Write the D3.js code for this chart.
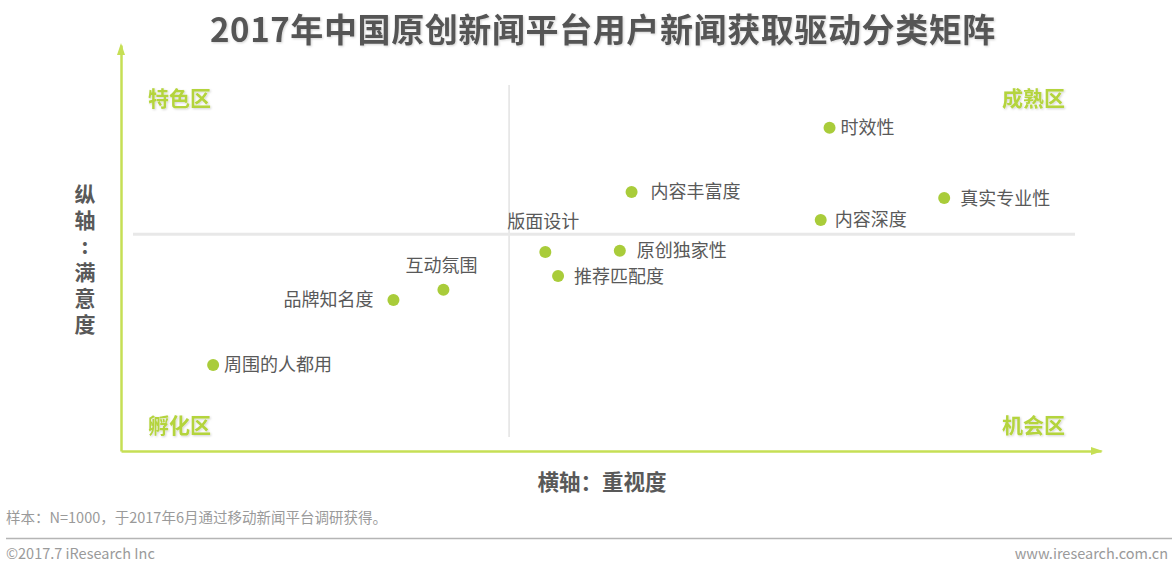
<!DOCTYPE html>
<html>
<head>
<meta charset="utf-8">
<script src="https://cdn.jsdelivr.net/npm/d3@7"></script>
<style>
  body { margin: 0; background: #fff; }
  svg { font-family: "Noto Sans CJK SC", "Noto Sans", sans-serif; }
</style>
</head>
<body>
<div id="chart"></div>
<script>
// factors, importance (x) and satisfaction (y)
const factors = ["时效性", "内容丰富度", "真实专业性", "内容深度", "版面设计", "原创独家性", "推荐匹配度", "互动氛围", "品牌知名度", "周围的人都用"];
const importance = [7.23, 5.21, 8.40, 7.14, 4.33, 5.09, 4.46, 3.29, 2.78, 0.94];
const satisfaction = [7.96, 6.38, 6.23, 5.69, 4.90, 4.93, 4.31, 3.97, 3.72, 2.12];
const xMid = 3.96;
const yMid = 5.34;
const quadrants = ["特色区", "成熟区", "孵化区", "机会区"];

// label placement relative to each dot
const labelSide = ["right", "right", "right", "right", "top", "right", "right", "top", "left", "right"];
const labelGap = [11, 19, 16, 14, 24, 17, 16, 18, 20, 11];

const W = 1172, H = 570;
const GREEN_AXIS = "#c6df55";
const GREEN_DOT = "#a9cc3a";
const GREEN_TEXT = "#b4d43c";
const DARK = "#595959";

const svg = d3.select("#chart").append("svg")
  .attr("width", W).attr("height", H);

const defs = svg.append("defs");
defs.append("filter").attr("id", "soft")
  .append("feDropShadow")
    .attr("dx", 1).attr("dy", 1).attr("stdDeviation", 1.2)
    .attr("flood-color", "#000").attr("flood-opacity", 0.18);

const x = d3.scaleLinear().domain([0, 10]).range([121, 1101]);
const y = d3.scaleLinear().domain([0, 10]).range([451, 45]);

// title
svg.append("text")
  .attr("x", 603).attr("y", 42)
  .attr("text-anchor", "middle")
  .attr("font-size", 33).attr("font-weight", "bold")
  .attr("letter-spacing", 0.6)
  .attr("fill", "#555")
  .attr("filter", "url(#soft)")
  .text("2017年中国原创新闻平台用户新闻获取驱动分类矩阵");

// quadrant dividers
svg.append("line")
  .attr("x1", x(xMid)).attr("x2", x(xMid))
  .attr("y1", 85).attr("y2", 437)
  .attr("stroke", "#e3e3e3").attr("stroke-width", 1.5);
svg.append("line")
  .attr("x1", 133).attr("x2", 1075)
  .attr("y1", y(yMid)).attr("y2", y(yMid))
  .attr("stroke", "#e8e8e8").attr("stroke-width", 3);

// axes with arrows
const yAxis = d3.axisLeft(y).tickValues([]).tickSize(0);
const xAxis = d3.axisBottom(x).tickValues([]).tickSize(0);
const gy = svg.append("g").attr("transform", `translate(${x(0)},0)`).call(yAxis);
const gx = svg.append("g").attr("transform", `translate(0,${y(0)})`).call(xAxis);
[gx, gy].forEach(g => g.select(".domain").attr("stroke", GREEN_AXIS).attr("stroke-width", 2.5));

svg.append("path")
  .attr("d", `M${x(0) - 4},${y(10) + 10} L${x(0)},${y(10) - 2} L${x(0) + 4},${y(10) + 10} Z`)
  .attr("fill", GREEN_AXIS);
svg.append("path")
  .attr("d", `M${x(10) - 10},${y(0) - 4} L${x(10) + 2},${y(0)} L${x(10) - 10},${y(0) + 4} Z`)
  .attr("fill", GREEN_AXIS);

// quadrant labels
const qPos = [[148, 106, "start"], [1065, 106, "end"], [148, 433, "start"], [1065, 433, "end"]];
svg.selectAll(".quad")
  .data(quadrants)
  .join("text")
    .attr("class", "quad")
    .attr("x", (d, i) => qPos[i][0])
    .attr("y", (d, i) => qPos[i][1])
    .attr("text-anchor", (d, i) => qPos[i][2])
    .attr("font-size", 21).attr("font-weight", "bold")
    .attr("fill", GREEN_TEXT)
    .attr("filter", "url(#soft)")
    .text(d => d);

// axis titles (y one is set vertically as a single text)
svg.append("text")
  .attr("x", 85).attr("y", 184)
  .style("writing-mode", "vertical-rl")
  .style("text-orientation", "upright")
  .attr("letter-spacing", 5)
  .attr("font-size", 21).attr("font-weight", "bold")
  .attr("fill", DARK)
  .text("纵轴:满意度");

svg.append("text")
  .attr("x", 602).attr("y", 490)
  .attr("text-anchor", "middle")
  .attr("font-size", 21.5).attr("font-weight", "bold")
  .attr("fill", DARK)
  .text("横轴：重视度");

// points
const pts = factors.map((f, i) => ({ name: f, x: importance[i], y: satisfaction[i], side: labelSide[i], gap: labelGap[i] }));

svg.selectAll(".dot")
  .data(pts)
  .join("circle")
    .attr("class", "dot")
    .attr("cx", d => x(d.x))
    .attr("cy", d => y(d.y))
    .attr("r", 6)
    .attr("fill", GREEN_DOT);

svg.selectAll(".lbl")
  .data(pts)
  .join("text")
    .attr("class", "lbl")
    .attr("x", d => d.side === "right" ? x(d.x) + d.gap : d.side === "left" ? x(d.x) - d.gap : x(d.x) - 2)
    .attr("y", d => d.side === "top" ? y(d.y) - d.gap : y(d.y) + 6.5)
    .attr("text-anchor", d => d.side === "right" ? "start" : d.side === "left" ? "end" : "middle")
    .attr("font-size", 18)
    .attr("fill", DARK)
    .text(d => d.name);

// footer
svg.append("text")
  .attr("x", 6).attr("y", 523)
  .attr("font-size", 14.5).attr("fill", "#9a9a9a")
  .text("样本：N=1000，于2017年6月通过移动新闻平台调研获得。");

svg.append("line")
  .attr("x1", 6).attr("x2", W).attr("y1", 538.5).attr("y2", 538.5)
  .attr("stroke", "#b5b5b5").attr("stroke-width", 1.5);

svg.append("text")
  .attr("x", 6).attr("y", 559)
  .attr("font-size", 14.5).attr("fill", "#9a9a9a")
  .text("©2017.7 iResearch Inc");

svg.append("text")
  .attr("x", 1168).attr("y", 559)
  .attr("text-anchor", "end")
  .attr("font-size", 14.5).attr("fill", "#9a9a9a")
  .text("www.iresearch.com.cn");
</script>
</body>
</html>
